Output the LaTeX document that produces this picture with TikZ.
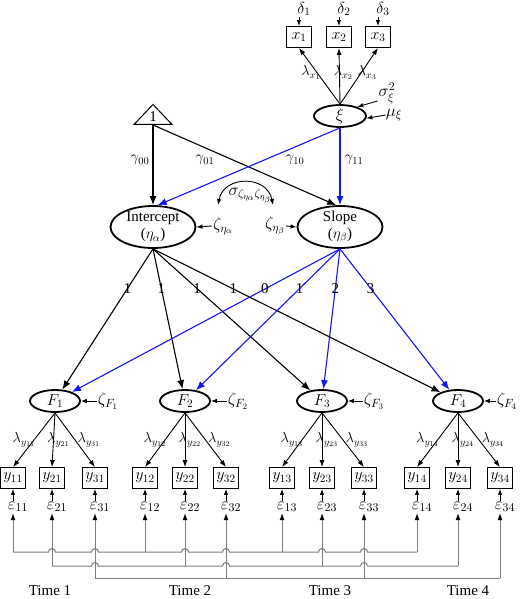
\RequirePackage{fix-cm}
\documentclass[tikz,border=0pt]{standalone}
\usepackage{fontspec}
\setmainfont{Liberation Serif}
\usepackage{tikz}
\usetikzlibrary{positioning}
\usetikzlibrary{calc}
\usetikzlibrary{arrows.meta}
\usetikzlibrary{shapes.geometric}
\usepackage{amsmath}
\definecolor{diagramblue}{RGB}{20, 20, 250}
\definecolor{diagramgray}{RGB}{125, 125, 125}

\begin{document}
\begin{tikzpicture}[x=1pt, y=-1pt, every node/.style={align=center, font=\fontsize{15}{17}\selectfont},
    latentNode/.style={ellipse, draw, line width=1.8pt, inner xsep=0pt, inner ysep=-3pt},
    itemBox/.style={rectangle, draw, line width=0.9pt, minimum width=25pt, minimum height=21pt, inner sep=0pt,
        font=\fontsize{16}{18}\selectfont},
    pathArrow/.style={-{Latex[length=9pt,width=7pt]}, line width=1.1pt},
    blueArrow/.style={pathArrow, diagramblue},
    thinArrow/.style={-{Latex[length=7pt,width=5pt]}, line width=0.9pt},
    smallArrow/.style={-{Latex[length=6pt,width=4.5pt]}, line width=0.9pt},
    covArrow/.style={{Latex[length=6pt,width=4.5pt]}-{Latex[length=6pt,width=4.5pt]}, line width=0.9pt},
    busLine/.style={diagramgray, line width=1pt},
    busArrow/.style={busLine, -{Latex[length=7pt,width=5pt,color=black]}},
    smallLabel/.style={font=\fontsize{14.5}{16}\selectfont, inner sep=1pt},
    bigLabel/.style={font=\fontsize{17}{19}\selectfont, inner sep=1pt}]

    \useasboundingbox (0,0) rectangle (520,599);

    % Exogenous factor and its indicators
    \node[latentNode, minimum width=52pt, minimum height=22pt, font=\fontsize{17}{19}\selectfont] (xi) at (340,116) {$\xi$};
    \node[itemBox] (x1) at (299,37) {$x_1$};
    \node[itemBox] (x2) at (339,37) {$x_2$};
    \node[itemBox] (x3) at (378,37) {$x_3$};
    \foreach \i/\s in {1/-6,2/4,3/6} {
        \node[bigLabel, font=\fontsize{16}{18}\selectfont] (d\i) at ($(x\i.north)+(5,-17)$) {$\delta_\i$};
        \draw[smallArrow] (d\i.south -| x\i.north) -- (x\i.north);
        \draw[thinArrow] (xi.north) -- (x\i.south) node[smallLabel, pos=.56, xshift=\s pt] {$\lambda_{x_\i}$};
    }
    \node[bigLabel, inner sep=0pt] (sigXi) at (387,93) {$\sigma^2_\xi$};
    \node[bigLabel, inner sep=0pt] (muXi) at (394,115) {$\mu_\xi$};
    \draw[smallArrow] ($(sigXi.west)+(-1,8)$) -- (xi.28);
    \draw[smallArrow] (muXi.west) -- (xi.-5);

    % Constant
    \node[draw, line width=1pt, isosceles triangle, isosceles triangle stretches, shape border rotate=90,
        minimum width=38pt, minimum height=20pt, inner sep=0pt] (one) at (153,117) {1};

    % Growth factors
    \node[latentNode, minimum width=85pt, minimum height=42pt] (icept) at (153,227) {Intercept\\($\eta_\alpha$)};
    \node[latentNode, minimum width=85pt, minimum height=42pt] (slope) at (340,227) {Slope\\($\eta_\beta$)};

    \draw[pathArrow] (one.south) -- (icept.north);
    \draw[pathArrow] (one.south) -- (slope.100);
    \draw[blueArrow] (xi.south) -- (icept.78);
    \draw[blueArrow] (xi.south) -- (slope.north);
    \node (g00) at (140,160) {$\gamma_{00}$};
    \node (g01) at (205,160) {$\gamma_{01}$};
    \node (g10) at (295,160) {$\gamma_{10}$};
    \node (g11) at (354,160) {$\gamma_{11}$};

    % Residuals and covariance
    \node[bigLabel] (zetaInt) at (223,226) {$\zeta_{\eta_\alpha}$};
    \node[bigLabel] (zetaSlope) at (275,226) {$\zeta_{\eta_\beta}$};
    \draw[smallArrow] (zetaInt.west) -- (icept.east);
    \draw[smallArrow] (zetaSlope.east) -- (slope.west);
    \node[bigLabel] (sigZeta) at (250,196) {$\sigma_{\zeta_{\eta_\alpha}\zeta_{\eta_\beta}}$};
    \coordinate (covL) at (218,205);
    \coordinate (covR) at (273,205);
    \draw[covArrow] (covL) .. controls (224,175) and (267,175) .. (covR);

    % First-order factors
    \foreach \t/\x/\z in {1/55/53,2/185/53,3/322/52,4/458/49} {
        \node[latentNode, minimum width=50pt, minimum height=22pt, font=\fontsize{16}{18}\selectfont] (f\t) at (\x,401) {$F_\t$};
        \node[bigLabel] (zetaF\t) at (\x+\z,401) {$\zeta_{F_\t}$};
        \draw[smallArrow] (zetaF\t.west) -- (f\t.east);
    }
    \foreach \t/\l in {1/1,2/1,3/1,4/1}
        \draw[pathArrow] (icept.south) -- (f\t) node[pos=.28] {\l};
    \foreach \t/\l in {1/0,2/1,3/2,4/3}
        \draw[blueArrow] (slope.south) -- (f\t) node[pos=.28, black] {\l};

    % Indicators and errors
    \foreach \t/\xa/\xb/\xc in {1/13/52/95, 2/145/185/226, 3/282/322/364, 4/417/458/500} {
        \foreach \i/\x/\s in {1/\xa/-10, 2/\xb/5, 3/\xc/14} {
            \node[itemBox] (y\i\t) at (\x,478) {$y_{\i\t}$};
            \node[bigLabel] (e\i\t) at (\x+5,507) {$\varepsilon_{\i\t}$};
            \draw[smallArrow] (e\i\t.north -| y\i\t.south) -- (y\i\t.south);
            \draw[thinArrow] (f\t.south) -- (y\i\t.north) node[smallLabel, pos=.5, xshift=\s pt] {$\lambda_{y_{\i\t}}$};
        }
    }

    % Error covariance lines
    \coordinate (bus1) at (0,552);
    \coordinate (bus2) at (0,566);
    \coordinate (bus3) at (0,578);
    \foreach \i in {1,2,3}
        \foreach \t in {1,...,4} {
            \coordinate (b\i\t) at (y\i\t |- bus\i);
            \draw[busArrow] (b\i\t) -- (e\i\t.south -| y\i\t);
        }
    \draw[busLine] (b11) \foreach \n in {y21,y31,y22,y32,y23,y33} {
        -- ($(\n |- bus1)+(-3.5pt,0pt)$) arc[start angle=180, end angle=0, radius=3.5pt] } -- (b14);
    \draw[busLine] (b21) \foreach \n in {y31,y32,y33} {
        -- ($(\n |- bus2)+(-3.5pt,0pt)$) arc[start angle=180, end angle=0, radius=3.5pt] } -- (b24);
    \draw[busLine] (b31) -- (b34);

    % Occasions
    \node (time1) at (50,591) {Time 1};
    \node (time2) at (190,591) {Time 2};
    \node (time3) at (330,591) {Time 3};
    \node (time4) at (468,591) {Time 4};

\end{tikzpicture}
\end{document}
